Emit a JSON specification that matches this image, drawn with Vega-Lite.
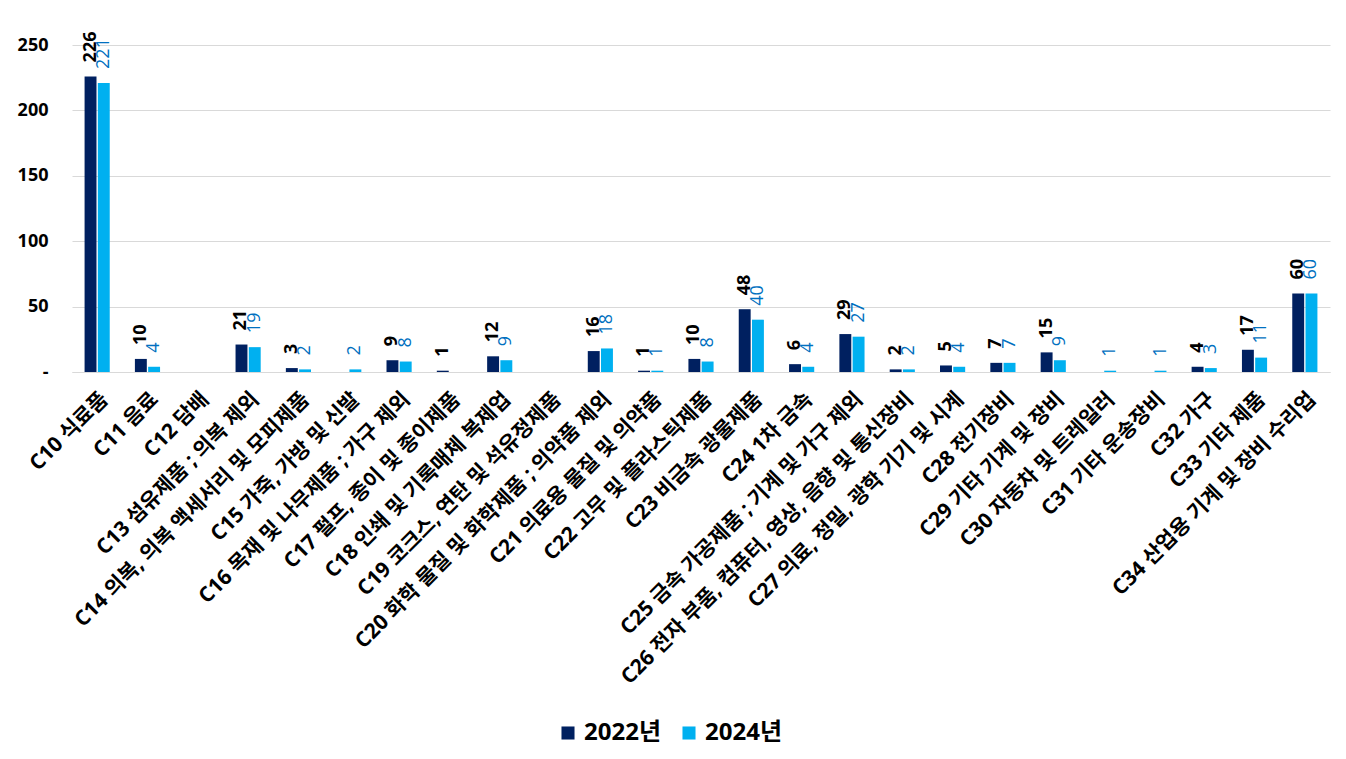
{
  "$schema": "https://vega.github.io/schema/vega-lite/v6.json",
  "width": 1258,
  "height": 327,
  "autosize": {"type": "none"},
  "padding": {"left": 72, "top": 45, "right": 16, "bottom": 387},
  "background": "white",
  "config": {
    "font": "Open Sans, Noto Sans CJK KR",
    "view": {"stroke": null}
  },
  "data": {
    "values": [
      {"c": "C10 식료품", "s": "2022년", "v": 226}, {"c": "C10 식료품", "s": "2024년", "v": 221},
      {"c": "C11 음료", "s": "2022년", "v": 10}, {"c": "C11 음료", "s": "2024년", "v": 4},
      {"c": "C12 담배", "s": "2022년", "v": null}, {"c": "C12 담배", "s": "2024년", "v": null},
      {"c": "C13 섬유제품 ; 의복 제외", "s": "2022년", "v": 21}, {"c": "C13 섬유제품 ; 의복 제외", "s": "2024년", "v": 19},
      {"c": "C14 의복, 의복 액세서리 및 모피제품", "s": "2022년", "v": 3}, {"c": "C14 의복, 의복 액세서리 및 모피제품", "s": "2024년", "v": 2},
      {"c": "C15 가죽, 가방 및 신발", "s": "2022년", "v": null}, {"c": "C15 가죽, 가방 및 신발", "s": "2024년", "v": 2},
      {"c": "C16 목재 및 나무제품 ; 가구 제외", "s": "2022년", "v": 9}, {"c": "C16 목재 및 나무제품 ; 가구 제외", "s": "2024년", "v": 8},
      {"c": "C17 펄프, 종이 및 종이제품", "s": "2022년", "v": 1}, {"c": "C17 펄프, 종이 및 종이제품", "s": "2024년", "v": null},
      {"c": "C18 인쇄 및 기록매체 복제업", "s": "2022년", "v": 12}, {"c": "C18 인쇄 및 기록매체 복제업", "s": "2024년", "v": 9},
      {"c": "C19 코크스, 연탄 및 석유정제품", "s": "2022년", "v": null}, {"c": "C19 코크스, 연탄 및 석유정제품", "s": "2024년", "v": null},
      {"c": "C20 화학 물질 및 화학제품 ; 의약품 제외", "s": "2022년", "v": 16}, {"c": "C20 화학 물질 및 화학제품 ; 의약품 제외", "s": "2024년", "v": 18},
      {"c": "C21 의료용 물질 및 의약품", "s": "2022년", "v": 1}, {"c": "C21 의료용 물질 및 의약품", "s": "2024년", "v": 1},
      {"c": "C22 고무 및 플라스틱제품", "s": "2022년", "v": 10}, {"c": "C22 고무 및 플라스틱제품", "s": "2024년", "v": 8},
      {"c": "C23 비금속 광물제품", "s": "2022년", "v": 48}, {"c": "C23 비금속 광물제품", "s": "2024년", "v": 40},
      {"c": "C24 1차 금속", "s": "2022년", "v": 6}, {"c": "C24 1차 금속", "s": "2024년", "v": 4},
      {"c": "C25 금속 가공제품 ; 기계 및 가구 제외", "s": "2022년", "v": 29}, {"c": "C25 금속 가공제품 ; 기계 및 가구 제외", "s": "2024년", "v": 27},
      {"c": "C26 전자 부품, 컴퓨터, 영상, 음향 및 통신장비", "s": "2022년", "v": 2}, {"c": "C26 전자 부품, 컴퓨터, 영상, 음향 및 통신장비", "s": "2024년", "v": 2},
      {"c": "C27 의료, 정밀, 광학 기기 및 시계", "s": "2022년", "v": 5}, {"c": "C27 의료, 정밀, 광학 기기 및 시계", "s": "2024년", "v": 4},
      {"c": "C28 전기장비", "s": "2022년", "v": 7}, {"c": "C28 전기장비", "s": "2024년", "v": 7},
      {"c": "C29 기타 기계 및 장비", "s": "2022년", "v": 15}, {"c": "C29 기타 기계 및 장비", "s": "2024년", "v": 9},
      {"c": "C30 자동차 및 트레일러", "s": "2022년", "v": null}, {"c": "C30 자동차 및 트레일러", "s": "2024년", "v": 1},
      {"c": "C31 기타 운송장비", "s": "2022년", "v": null}, {"c": "C31 기타 운송장비", "s": "2024년", "v": 1},
      {"c": "C32 가구", "s": "2022년", "v": 4}, {"c": "C32 가구", "s": "2024년", "v": 3},
      {"c": "C33 기타 제품", "s": "2022년", "v": 17}, {"c": "C33 기타 제품", "s": "2024년", "v": 11},
      {"c": "C34 산업용 기계 및 장비 수리업", "s": "2022년", "v": 60}, {"c": "C34 산업용 기계 및 장비 수리업", "s": "2024년", "v": 60}
    ]
  },
  "encoding": {
    "x": {
      "field": "c", "type": "nominal", "sort": null,
      "scale": {
        "domain": ["C10 식료품", "C11 음료", "C12 담배", "C13 섬유제품 ; 의복 제외", "C14 의복, 의복 액세서리 및 모피제품", "C15 가죽, 가방 및 신발", "C16 목재 및 나무제품 ; 가구 제외", "C17 펄프, 종이 및 종이제품", "C18 인쇄 및 기록매체 복제업", "C19 코크스, 연탄 및 석유정제품", "C20 화학 물질 및 화학제품 ; 의약품 제외", "C21 의료용 물질 및 의약품", "C22 고무 및 플라스틱제품", "C23 비금속 광물제품", "C24 1차 금속", "C25 금속 가공제품 ; 기계 및 가구 제외", "C26 전자 부품, 컴퓨터, 영상, 음향 및 통신장비", "C27 의료, 정밀, 광학 기기 및 시계", "C28 전기장비", "C29 기타 기계 및 장비", "C30 자동차 및 트레일러", "C31 기타 운송장비", "C32 가구", "C33 기타 제품", "C34 산업용 기계 및 장비 수리업"],
        "paddingInner": 0.5, "paddingOuter": 0.25
      },
      "axis": {
        "title": null, "labelAngle": -45, "labelAlign": "right", "labelBaseline": "top",
        "labelFontSize": 21, "labelFontWeight": "bold", "labelColor": "#000000",
        "labelPadding": 16, "ticks": false, "domainColor": "#d9d9d9", "labelLimit": 0,
        "labelOverlap": false
      }
    },
    "xOffset": {"field": "s", "type": "nominal", "scale": {"domain": ["2022년", "2024년"], "paddingInner": 0.1}},
    "y": {
      "field": "v", "type": "quantitative",
      "scale": {"domain": [0, 250], "nice": false},
      "axis": {
        "title": null, "values": [0, 50, 100, 150, 200, 250],
        "labelExpr": "datum.value == 0 ? '-' : datum.label",
        "labelFontSize": 18, "labelFontWeight": "bold", "labelColor": "#000000",
        "domain": false, "ticks": false, "gridColor": "#d9d9d9", "labelPadding": 24
      }
    }
  },
  "layer": [
    {
      "mark": {"type": "bar"},
      "encoding": {
        "color": {
          "field": "s", "type": "nominal",
          "scale": {"domain": ["2022년", "2024년"], "range": ["#002060", "#00B0F0"]},
          "legend": {
            "title": null, "orient": "none", "legendX": 484, "legendY": 676, "direction": "horizontal",
            "symbolType": "square", "symbolSize": 170, "symbolStrokeWidth": 0,
            "labelFontSize": 24, "labelFontWeight": "bold", "labelColor": "#000000",
            "columnPadding": 16
          }
        }
      }
    },
    {
      "transform": [{"filter": "datum.s == '2022년' && isValid(datum.v)"}],
      "mark": {"type": "text", "angle": 270, "align": "left", "baseline": "middle", "dx": 14, "fontSize": 18, "fontWeight": "bold", "color": "#000000"},
      "encoding": {"text": {"field": "v", "type": "quantitative"}}
    },
    {
      "transform": [{"filter": "datum.s == '2024년' && isValid(datum.v)"}],
      "mark": {"type": "text", "angle": 270, "align": "left", "baseline": "middle", "dx": 14, "fontSize": 18, "fontWeight": "normal", "color": "#0070C0"},
      "encoding": {"text": {"field": "v", "type": "quantitative"}}
    }
  ]
}
